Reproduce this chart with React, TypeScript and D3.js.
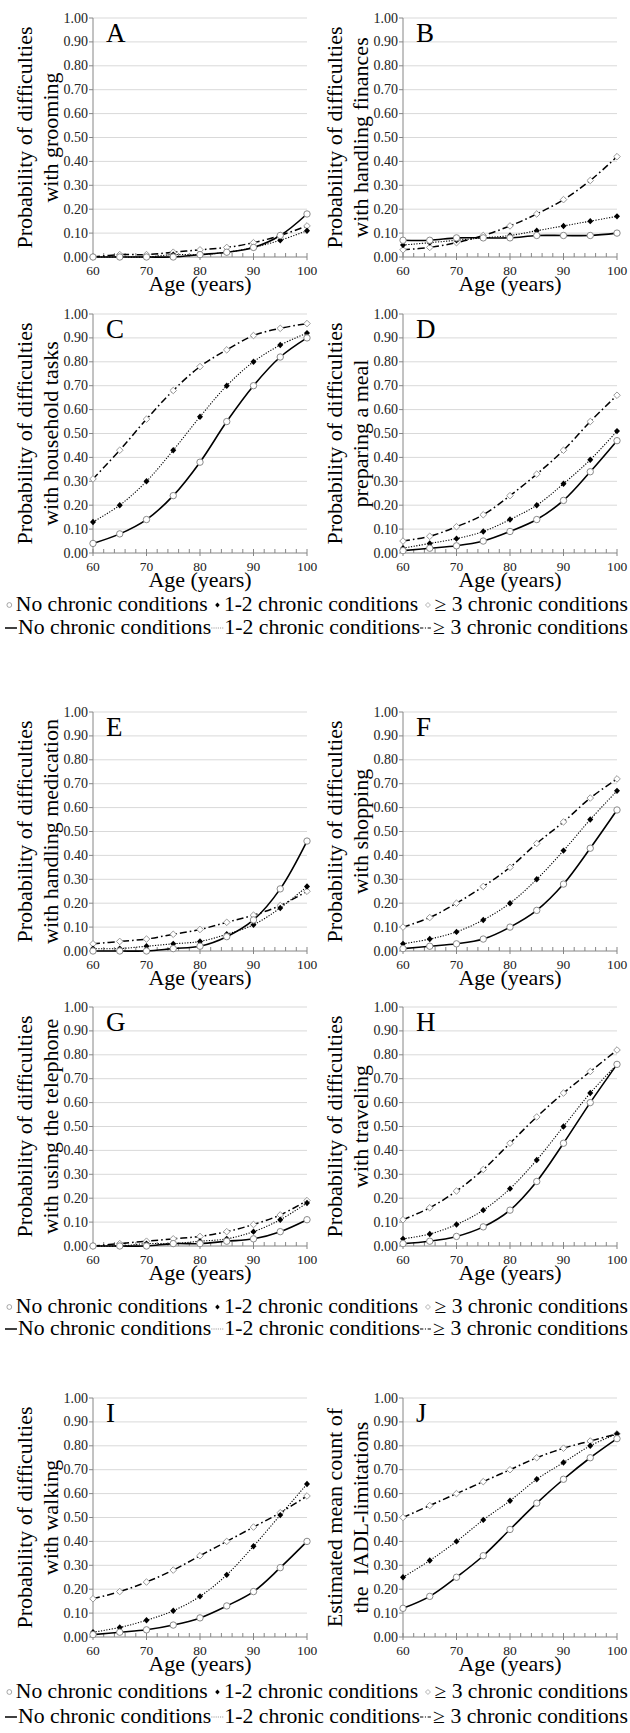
import React from "react";
import * as d3 from "d3";

// ages on the x axis
const ages = [60, 65, 70, 75, 80, 85, 90, 95, 100];
const xTicks = [60, 70, 80, 90, 100];
const yTicks = [0, 0.1, 0.2, 0.3, 0.4, 0.5, 0.6, 0.7, 0.8, 0.9, 1.0];

// A grooming
const groomingNone = [0.0, 0.0, 0.0, 0.0, 0.01, 0.02, 0.04, 0.09, 0.18];
const groomingFew = [0.0, 0.0, 0.0, 0.01, 0.01, 0.02, 0.04, 0.07, 0.11];
const groomingMany = [0.0, 0.01, 0.01, 0.02, 0.03, 0.04, 0.06, 0.09, 0.13];
// B finances
const financesNone = [0.07, 0.07, 0.08, 0.08, 0.08, 0.09, 0.09, 0.09, 0.1];
const financesFew = [0.05, 0.06, 0.07, 0.08, 0.09, 0.11, 0.13, 0.15, 0.17];
const financesMany = [0.03, 0.04, 0.06, 0.09, 0.13, 0.18, 0.24, 0.32, 0.42];
// C household tasks
const householdNone = [0.04, 0.08, 0.14, 0.24, 0.38, 0.55, 0.7, 0.82, 0.9];
const householdFew = [0.13, 0.2, 0.3, 0.43, 0.57, 0.7, 0.8, 0.87, 0.92];
const householdMany = [0.31, 0.43, 0.56, 0.68, 0.78, 0.85, 0.91, 0.94, 0.96];
// D meal
const mealNone = [0.01, 0.02, 0.03, 0.05, 0.09, 0.14, 0.22, 0.34, 0.47];
const mealFew = [0.02, 0.04, 0.06, 0.09, 0.14, 0.2, 0.29, 0.39, 0.51];
const mealMany = [0.05, 0.07, 0.11, 0.16, 0.24, 0.33, 0.43, 0.55, 0.66];
// E medication
const medicationNone = [0.0, 0.0, 0.0, 0.01, 0.02, 0.06, 0.13, 0.26, 0.46];
const medicationFew = [0.01, 0.01, 0.02, 0.03, 0.04, 0.07, 0.11, 0.18, 0.27];
const medicationMany = [0.03, 0.04, 0.05, 0.07, 0.09, 0.12, 0.15, 0.19, 0.25];
// F shopping
const shoppingNone = [0.01, 0.02, 0.03, 0.05, 0.1, 0.17, 0.28, 0.43, 0.59];
const shoppingFew = [0.03, 0.05, 0.08, 0.13, 0.2, 0.3, 0.42, 0.55, 0.67];
const shoppingMany = [0.1, 0.14, 0.2, 0.27, 0.35, 0.45, 0.54, 0.64, 0.72];
// G telephone
const phoneNone = [0.0, 0.0, 0.0, 0.01, 0.01, 0.02, 0.03, 0.06, 0.11];
const phoneFew = [0.0, 0.0, 0.01, 0.01, 0.02, 0.03, 0.06, 0.11, 0.18];
const phoneMany = [0.0, 0.01, 0.02, 0.03, 0.04, 0.06, 0.09, 0.13, 0.19];
// H traveling
const travelNone = [0.01, 0.02, 0.04, 0.08, 0.15, 0.27, 0.43, 0.6, 0.76];
const travelFew = [0.03, 0.05, 0.09, 0.15, 0.24, 0.36, 0.5, 0.64, 0.76];
const travelMany = [0.11, 0.16, 0.23, 0.32, 0.43, 0.54, 0.64, 0.73, 0.82];
// I walking
const walkNone = [0.01, 0.02, 0.03, 0.05, 0.08, 0.13, 0.19, 0.29, 0.4];
const walkFew = [0.02, 0.04, 0.07, 0.11, 0.17, 0.26, 0.38, 0.51, 0.64];
const walkMany = [0.16, 0.19, 0.23, 0.28, 0.34, 0.4, 0.46, 0.52, 0.59];
// J IADL count
const iadlNone = [0.12, 0.17, 0.25, 0.34, 0.45, 0.56, 0.66, 0.75, 0.83];
const iadlFew = [0.25, 0.32, 0.4, 0.49, 0.57, 0.66, 0.73, 0.8, 0.85];
const iadlMany = [0.5, 0.55, 0.6, 0.65, 0.7, 0.75, 0.79, 0.82, 0.85];

const legendNames = ["No chronic conditions", "1-2 chronic conditions", "\u2265 3 chronic conditions"];

const panels = [
  { letter: "A", title: ["Probability of difficulties", "with grooming"], none: groomingNone, few: groomingFew, many: groomingMany },
  { letter: "B", title: ["Probability of difficulties", "with handling finances"], none: financesNone, few: financesFew, many: financesMany },
  { letter: "C", title: ["Probability of difficulties", "with household tasks"], none: householdNone, few: householdFew, many: householdMany },
  { letter: "D", title: ["Probability of difficulties", "preparing a meal"], none: mealNone, few: mealFew, many: mealMany },
  { letter: "E", title: ["Probability of difficulties", "with handling medication"], none: medicationNone, few: medicationFew, many: medicationMany },
  { letter: "F", title: ["Probability of difficulties", "with shopping"], none: shoppingNone, few: shoppingFew, many: shoppingMany },
  { letter: "G", title: ["Probability of difficulties", "with using the telephone"], none: phoneNone, few: phoneFew, many: phoneMany },
  { letter: "H", title: ["Probability of difficulties", "with traveling"], none: travelNone, few: travelFew, many: travelMany },
  { letter: "I", title: ["Probability of difficulties", "with walking"], none: walkNone, few: walkFew, many: walkMany },
  { letter: "J", title: ["Estimated mean count of", "the\u00a0 IADL-limitations"], none: iadlNone, few: iadlFew, many: iadlMany },
];

const FONT = "Liberation Serif, Times New Roman, DejaVu Serif, Noto Serif, serif";
const fontStyle = { fontFamily: FONT };
const W = 630;
const H = 1733;
const PW = 214;
const PH = 239;
const colX = [93, 403];
const rowY = [18, 314, 712, 1007, 1398];
const legendY = [[611, 634], [1313, 1335], [1698, 1723]];

const xs = d3.scaleLinear().domain([60, 100]).range([0, PW]);
const ys = d3.scaleLinear().domain([0, 1]).range([PH, 0]);
const line = d3
  .line<number>()
  .x((_, i) => xs(ages[i]))
  .y((d) => ys(d))
  .curve(d3.curveCatmullRom.alpha(0.5));

const Marker = ({ kind, x, y }: { kind: string; x: number; y: number }) => {
  if (kind === "circle")
    return <circle cx={x} cy={y} r={3.2} fill="#fff" stroke="#8a8a8a" strokeWidth={1} />;
  if (kind === "dot")
    return <path d={`M${x},${y - 3.2}L${x + 3},${y}L${x},${y + 3.2}L${x - 3},${y}Z`} fill="#000" />;
  return (
    <path
      d={`M${x},${y - 3.3}L${x + 3.3},${y}L${x},${y + 3.3}L${x - 3.3},${y}Z`}
      fill="#fff"
      stroke="#9a9a9a"
      strokeWidth={1}
    />
  );
};

const Panel = ({ p, x, y }: any) => {
  const series = [
    { data: p.many, dash: "7,3,1.6,3", width: 1.5, marker: "diamond" },
    { data: p.few, dash: "1.2,1.5", width: 1.1, marker: "dot" },
    { data: p.none, dash: null, width: 1.6, marker: "circle" },
  ];
  const minor = d3.range(60, 101, 2);
  return (
    <g transform={`translate(${x},${y})`} style={fontStyle}>
      {yTicks.slice(1).map((t) => (
        <line key={t} x1={0} x2={PW} y1={ys(t)} y2={ys(t)} stroke="#d9d9d9" strokeWidth={1} />
      ))}
      {yTicks.map((t) => (
        <g key={"y" + t}>
          <line x1={-4} x2={0} y1={ys(t)} y2={ys(t)} stroke="#868686" />
          <text x={-5} y={ys(t) + 4.5} fontSize={14} textAnchor="end" fill="#222">
            {t.toFixed(2)}
          </text>
        </g>
      ))}
      <line x1={0} x2={0} y1={0} y2={PH} stroke="#868686" />
      <line x1={0} x2={PW} y1={PH} y2={PH} stroke="#868686" />
      {minor.map((m) => (
        <line key={m} x1={xs(m)} x2={xs(m)} y1={PH - 4} y2={PH + (m % 10 === 0 ? 3 : 0)} stroke="#868686" />
      ))}
      {xTicks.map((t) => (
        <text key={t} x={xs(t)} y={PH + 18} fontSize={13.5} textAnchor="middle" fill="#222">
          {t}
        </text>
      ))}
      <text x={PW / 2} y={PH + 34} fontSize={22} textAnchor="middle">
        Age (years)
      </text>
      <g transform={`translate(-61,${PH / 2}) rotate(-90)`}>
        <text x={0} y={0} fontSize={22} textAnchor="middle">
          {p.title[0]}
        </text>
        <text x={0} y={26} fontSize={22} textAnchor="middle">
          {p.title[1]}
        </text>
      </g>
      <text x={13} y={24} fontSize={27}>
        {p.letter}
      </text>
      {series.map((s, i) => (
        <path
          key={i}
          d={line(s.data) || ""}
          fill="none"
          stroke="#000"
          strokeWidth={s.width}
          strokeDasharray={s.dash || undefined}
        />
      ))}
      {series.map((s, i) => (
        <g key={"m" + i}>
          {s.data.map((v: number, j: number) => (
            <Marker key={j} kind={s.marker} x={xs(ages[j])} y={ys(v)} />
          ))}
        </g>
      ))}
    </g>
  );
};

let ctx: CanvasRenderingContext2D | null = null;
const measure = (s: string, size: number) => {
  if (!ctx) ctx = document.createElement("canvas").getContext("2d");
  if (!ctx) return s.length * size * 0.45;
  ctx.font = `${size}px ${FONT}`;
  return ctx.measureText(s).width;
};

const Legend = ({ y1, y2 }: { y1: number; y2: number }) => {
  const fs = 20;
  const left = 5;
  const right = 628;
  // row 1: markers then names
  const markers = ["circle", "dot", "diamond"];
  const mw = 10;
  const row1Parts = legendNames.map((n, i) => ({ m: markers[i], t: n, w: measure(n, fs) }));
  const row1Natural = row1Parts.reduce((a, b) => a + mw + b.w + 5, 0) - 5;
  const s1 = (right - left) / row1Natural;
  let cx = 0;
  const row1 = row1Parts.map((p) => {
    const mx = cx + 4;
    const tx = cx + mw;
    cx = tx + p.w + 5;
    return { ...p, mx, tx };
  });
  // row 2: line samples then names
  const dashes = [null, "1,1", "3,1.5,1,1.5"];
  const sw = 11;
  const row2Parts = legendNames.map((n, i) => ({ d: dashes[i], t: n, w: measure(n, fs) }));
  const row2Natural = row2Parts.reduce((a, b) => a + sw + b.w + 1, 0);
  const s2 = (right - left) / row2Natural;
  cx = 0;
  const row2 = row2Parts.map((p) => {
    const lx = cx;
    const tx = cx + sw + 1;
    cx = tx + p.w;
    return { ...p, lx, tx };
  });
  return (
    <g style={fontStyle} fontSize={fs}>
      <g transform={`translate(${left},${y1}) scale(${s1},1)`}>
        {row1.map((p, i) => (
          <g key={i}>
            <g transform={`translate(${p.mx},-6) scale(${0.75 / s1},0.75)`}>
              <Marker kind={p.m} x={0} y={0} />
            </g>
            <text x={p.tx}>{p.t}</text>
          </g>
        ))}
      </g>
      <g transform={`translate(${left},${y2}) scale(${s2},1)`}>
        {row2.map((p, i) => (
          <g key={i}>
            <line
              x1={p.lx}
              x2={p.lx + sw}
              y1={-6}
              y2={-6}
              stroke={i === 1 ? "#999" : "#000"}
              strokeWidth={i === 0 ? 1.5 : 1}
              strokeDasharray={p.d || undefined}
            />
            <text x={p.tx}>{p.t}</text>
          </g>
        ))}
      </g>
    </g>
  );
};

export default function App() {
  return (
    <svg
      width={W}
      height={H}
      viewBox={`0 0 ${W} ${H}`}
      style={{ position: "absolute", left: 0, top: 0, background: "#fff", ...fontStyle }}
    >
      <rect width={W} height={H} fill="#fff" />
      {panels.map((p, i) => (
        <Panel key={p.letter} p={p} x={colX[i % 2]} y={rowY[Math.floor(i / 2)]} />
      ))}
      {legendY.map(([a, b], i) => (
        <Legend key={i} y1={a} y2={b} />
      ))}
    </svg>
  );
}
